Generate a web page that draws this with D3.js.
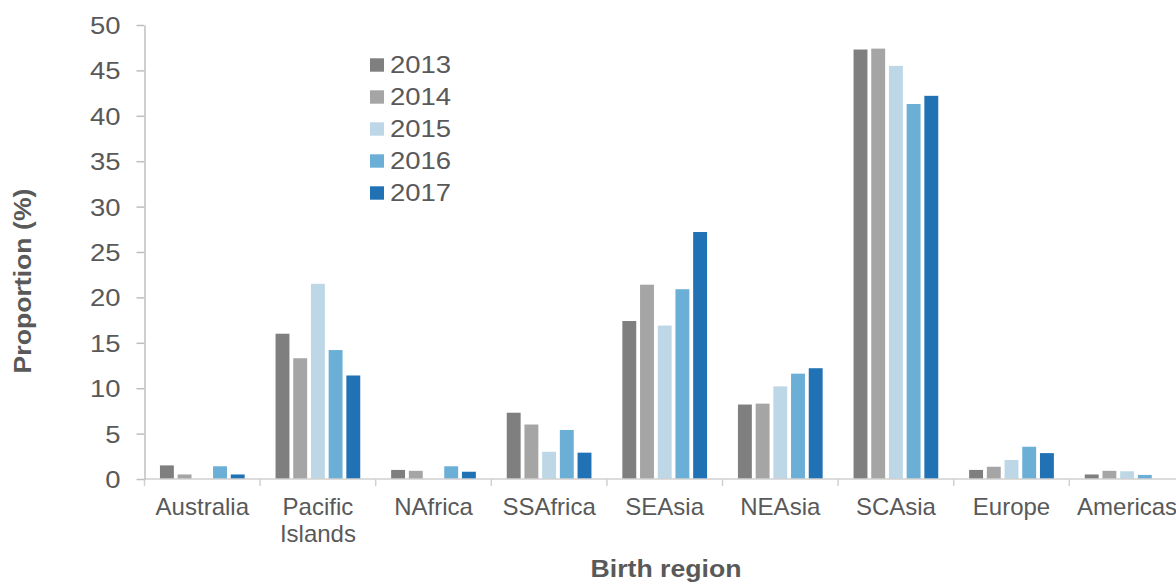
<!DOCTYPE html>
<html><head><meta charset="utf-8">
<script src="https://cdn.jsdelivr.net/npm/d3@7"></script>
<style>body{margin:0;background:#fff;} svg{display:block;font-family:"Liberation Sans",Arial,sans-serif;}</style>
</head><body>
<svg id="c" width="1176" height="583"></svg>
<script>
const categories = ["Australia","Pacific Islands","NAfrica","SSAfrica","SEAsia","NEAsia","SCAsia","Europe","Americas"];
const years = ["2013","2014","2015","2016","2017"];
const v2013 = [1.5,16.0,1.0,7.3,17.4,8.2,47.3,1.0,0.5];
const v2014 = [0.5,13.3,0.9,6.0,21.4,8.3,47.4,1.35,0.9];
const v2015 = [0,21.5,0,3.0,16.9,10.2,45.5,2.1,0.85];
const v2016 = [1.4,14.2,1.4,5.4,20.9,11.6,41.3,3.55,0.45];
const v2017 = [0.5,11.4,0.8,2.9,27.2,12.2,42.2,2.85,0];
const yTicks = [0,5,10,15,20,25,30,35,40,45,50];
const colors = ["#7f7f7f","#a5a5a5","#bdd7e7","#6baed6","#2171b5"];
const series = [v2013,v2014,v2015,v2016,v2017];

const svg = d3.select("#c");
const x0 = 144.5, band = 115.6, groupW = 84.7, baseY = 479;
const x = d3.scaleBand().domain(categories).range([x0, x0 + band*categories.length]);
const y = d3.scaleLinear().domain([0,50]).range([baseY,25]);
const xs = d3.scaleBand().domain(years).range([0, groupW]).paddingInner(0.215);
const yAxisColor = "#bfbfbf", xAxisColor = "#d0d0d0", textColor = "#595959";
const numStretch = 1.17, titleStretch = 1.11;

function stretch(sel, k){
  sel.each(function(){
    const t = d3.select(this);
    const xx = +(t.attr("x")||0);
    t.attr("x", xx/k).attr("transform", `scale(${k},1)`);
  });
}

// bars
series.forEach((s,i)=>{
  svg.append("g").selectAll("rect").data(s).enter().append("rect")
    .attr("x",(d,j)=> x(categories[j]) + (band-groupW)/2 + xs(years[i]))
    .attr("width", xs.bandwidth())
    .attr("y", d=>y(d))
    .attr("height", d=>Math.max(0, baseY - y(d)))
    .attr("fill", colors[i]);
});

// x axis
svg.append("line").attr("x1",x0).attr("x2",1176).attr("y1",baseY).attr("y2",baseY).attr("stroke",xAxisColor).attr("stroke-width",1.5);
const bounds = categories.map((c)=>x(c)).concat([x0+band*categories.length]);
svg.append("g").selectAll("line").data(bounds).enter().append("line")
  .attr("x1",d=>d).attr("x2",d=>d).attr("y1",baseY).attr("y2",baseY+7)
  .attr("stroke",xAxisColor).attr("stroke-width",1.5);

// y axis
const ya = svg.append("g").attr("transform",`translate(${x0},0)`)
  .call(d3.axisLeft(y).tickValues(yTicks).tickSize(8).tickPadding(16).tickSizeOuter(0));
ya.select(".domain").attr("stroke",yAxisColor).attr("stroke-width",1.5);
ya.selectAll(".tick line").attr("stroke",yAxisColor).attr("stroke-width",1.5);
ya.selectAll("text").attr("fill",textColor).attr("dy","0.36em")
  .style("font-size","23.5px").style("font-family","Liberation Sans, Arial, sans-serif");
stretch(ya.selectAll("text"), numStretch);

const lab = svg.append("g").selectAll("text").data(categories).enter().append("text")
  .attr("x",d=>x(d)+band/2).attr("y",515).attr("text-anchor","middle")
  .attr("fill",textColor).style("font-size","24px");
lab.each(function(d){
  const parts = d==="Pacific Islands" ? ["Pacific","Islands"] : [d];
  const t = d3.select(this);
  parts.forEach((p,k)=>t.append("tspan").attr("x",x(d)+band/2).attr("dy",k?27:0).text(p));
});

// titles
const xt = svg.append("text").attr("x",666).attr("y",577).attr("text-anchor","middle")
  .attr("fill",textColor).style("font-size","24px").style("font-weight","bold").text("Birth region");
stretch(xt, titleStretch);
svg.append("text").attr("transform",`translate(31,281) rotate(-90) scale(${titleStretch},1)`).attr("text-anchor","middle")
  .attr("fill",textColor).style("font-size","24px").style("font-weight","bold").text("Proportion (%)");

// legend
const lg = svg.append("g");
years.forEach((yr,i)=>{
  const yy = 65 + i*32;
  lg.append("rect").attr("x",370).attr("y",yy-6.7).attr("width",14).attr("height",13.4).attr("fill",colors[i]);
  const t = lg.append("text").attr("x",390).attr("y",yy+8.3).attr("fill",textColor).style("font-size","23.5px").text(yr);
  stretch(t, numStretch);
});
</script>
</body></html>
